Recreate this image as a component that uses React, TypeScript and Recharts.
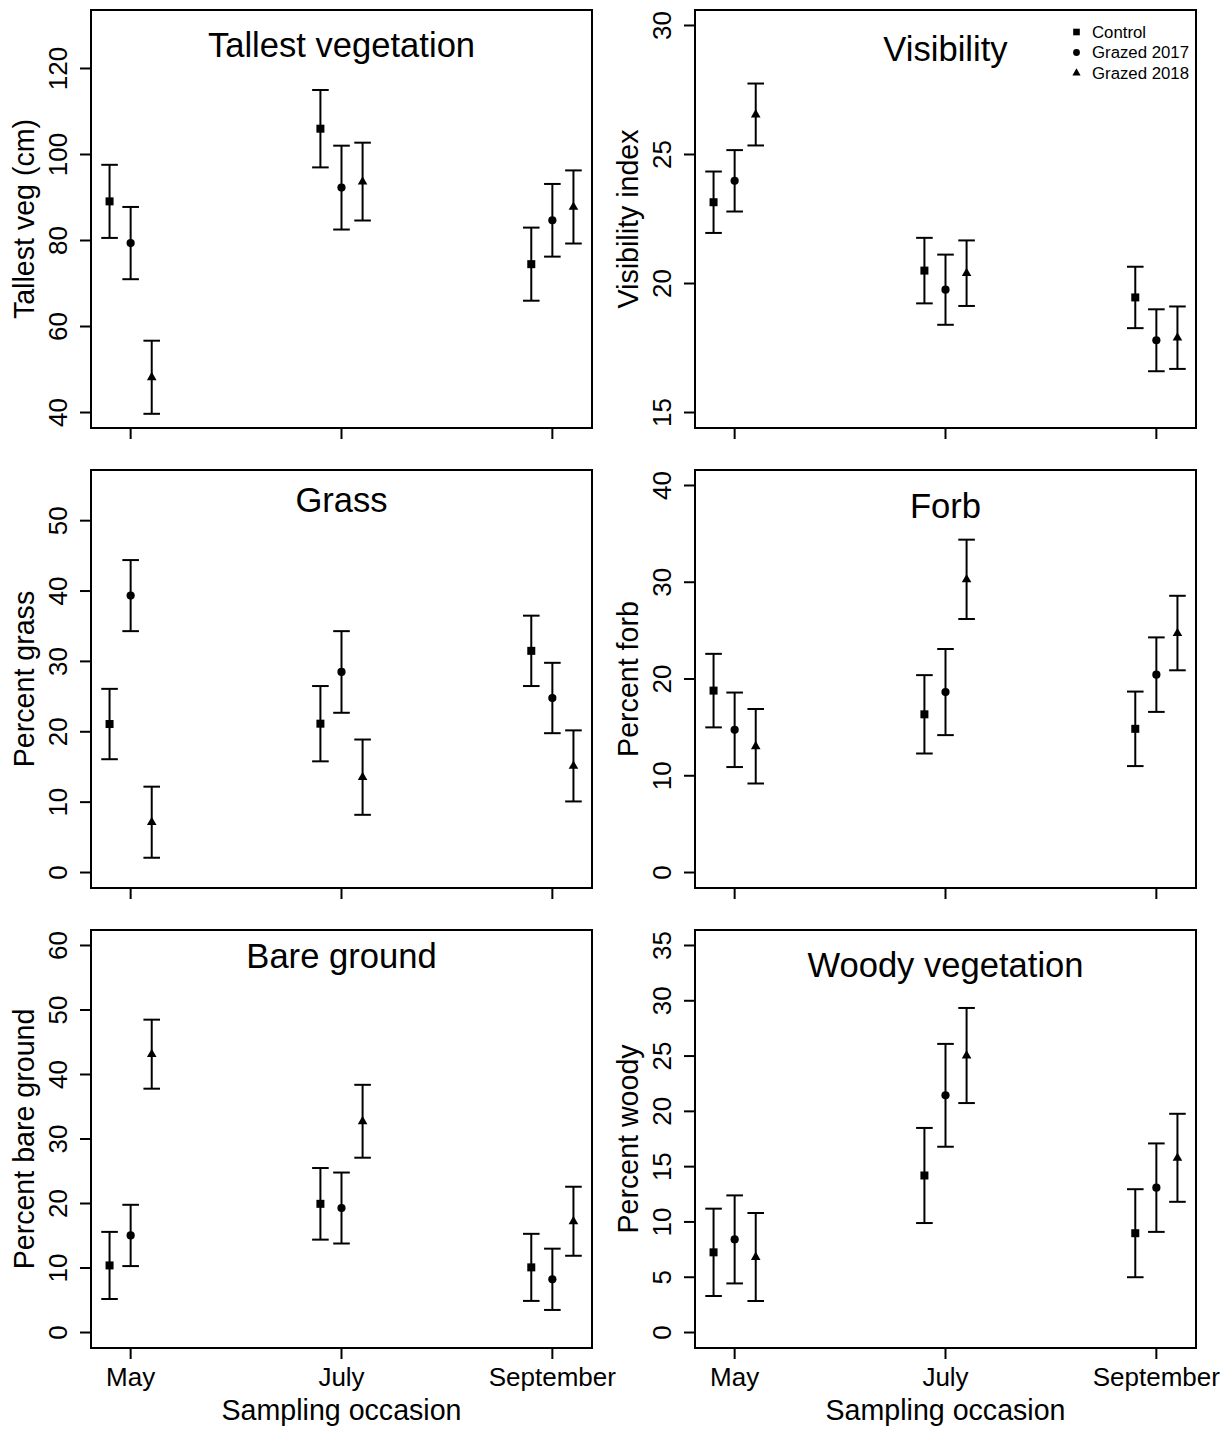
import React from 'react';
import { ScatterChart, Scatter, XAxis, YAxis, ErrorBar, ReferenceArea, Legend } from 'recharts';

const FONT = '"Liberation Sans", Arial, Helvetica, sans-serif';

// sampling occasions and treatments
const months = ['May', 'July', 'September'];
const occasions = [1, 2, 3];
const treatments = ['Control', 'Grazed 2017', 'Grazed 2018'];
const dodge = [-0.1, 0, 0.1];

// means / standard errors: one row per treatment, columns May, July, September
const tallestMean = [[89.1, 106.0, 74.5], [79.4, 92.3, 84.7], [48.2, 93.7, 87.8]];
const tallestSe = [[8.5, 9.0, 8.5], [8.4, 9.75, 8.45], [8.5, 9.05, 8.5]];
const tallestTicks = [40, 60, 80, 100, 120];

const visMean = [[23.15, 20.5, 19.46], [23.98, 19.76, 17.8], [26.55, 20.4, 17.9]];
const visSe = [[1.19, 1.27, 1.19], [1.19, 1.36, 1.2], [1.2, 1.27, 1.21]];
const visTicks = [15, 20, 25, 30];

const grassMean = [[21.1, 21.15, 31.5], [39.35, 28.5, 24.8], [7.15, 13.55, 15.15]];
const grassSe = [[5.0, 5.35, 5.0], [5.05, 5.8, 5.0], [5.05, 5.35, 5.05]];
const grassTicks = [0, 10, 20, 30, 40, 50];

const forbMean = [[18.8, 16.35, 14.85], [14.75, 18.65, 20.45], [13.05, 30.3, 24.75]];
const forbSe = [[3.8, 4.05, 3.85], [3.85, 4.45, 3.85], [3.85, 4.1, 3.85]];
const forbTicks = [0, 10, 20, 30, 40];

const bareMean = [[10.4, 19.95, 10.1], [15.05, 19.3, 8.25], [43.15, 32.75, 17.25]];
const bareSe = [[5.2, 5.55, 5.2], [4.75, 5.5, 4.75], [5.35, 5.65, 5.35]];
const bareTicks = [0, 10, 20, 30, 40, 50, 60];

const woodyMean = [[7.25, 14.2, 8.98], [8.42, 21.45, 13.1], [6.83, 25.05, 15.8]];
const woodySe = [[3.95, 4.3, 3.98], [3.98, 4.65, 4.0], [3.98, 4.3, 3.98]];
const woodyTicks = [0, 5, 10, 15, 20, 25, 30, 35];

// R-style axis: limits padded by 4%
const pad = (lo: number, hi: number): [number, number] => {
  const d = (hi - lo) * 0.04;
  return [lo - d, hi + d];
};
const X_DOMAIN = pad(0.9, 3.1);

const panels = [
  { title: 'Tallest vegetation', yLabel: 'Tallest veg (cm)', ylim: [40, 130], ticks: tallestTicks, mean: tallestMean, se: tallestSe, titleY: 47 },
  { title: 'Visibility', yLabel: 'Visibility index', ylim: [15, 30], ticks: visTicks, mean: visMean, se: visSe, titleY: 51 },
  { title: 'Grass', yLabel: 'Percent grass', ylim: [0, 55], ticks: grassTicks, mean: grassMean, se: grassSe, titleY: 42 },
  { title: 'Forb', yLabel: 'Percent forb', ylim: [0, 40], ticks: forbTicks, mean: forbMean, se: forbSe, titleY: 48 },
  { title: 'Bare ground', yLabel: 'Percent bare ground', ylim: [0, 60], ticks: bareTicks, mean: bareMean, se: bareSe, titleY: 38 },
  { title: 'Woody vegetation', yLabel: 'Percent woody', ylim: [0, 35], ticks: woodyTicks, mean: woodyMean, se: woodySe, titleY: 47 },
];

const AXIS_W = 91;
const BOX_W = 501;
const BOX_TOP = 10;
const BOX_H = 418;
const LINE = 2;

const Square = (p: any) => <rect x={p.cx - 4} y={p.cy - 4} width={8} height={8} fill="#000" />;
const Dot = (p: any) => <circle cx={p.cx} cy={p.cy} r={4.1} fill="#000" />;
const Tri = (p: any) => (
  <polygon points={`${p.cx},${p.cy - 5.4} ${p.cx + 4.8},${p.cy + 2.9} ${p.cx - 4.8},${p.cy + 2.9}`} fill="#000" />
);
const shapes = [Square, Dot, Tri];

function LegendBox() {
  return (
    <svg width={150} height={66} style={{ display: 'block', overflow: 'visible' }}>
      {treatments.map((t, i) => {
        const cy = 11 + i * 20.5;
        const cx = 12.5;
        return (
          <g key={t}>
            {i === 0 && <rect x={cx - 3.3} y={cy - 3.3} width={6.6} height={6.6} fill="#000" />}
            {i === 1 && <circle cx={cx} cy={cy} r={3.4} fill="#000" />}
            {i === 2 && <polygon points={`${cx},${cy - 4.7} ${cx + 4.1},${cy + 2.5} ${cx - 4.1},${cy + 2.5}`} fill="#000" />}
            <text x={28} y={cy} dominantBaseline="central" fontSize={16.8} fontFamily={FONT} fill="#000">{t}</text>
          </g>
        );
      })}
    </svg>
  );
}

function Panel({ idx, left, top, width, height, bottomRow }: any) {
  const cfg = panels[idx];
  const yDomain = pad(cfg.ylim[0], cfg.ylim[1]);
  const xAxisH = height - BOX_TOP - BOX_H;
  const series = treatments.map((t, i) => ({
    name: t,
    data: occasions.map((o, j) => ({ x: o + dodge[i], y: cfg.mean[i][j], se: cfg.se[i][j] })),
  }));

  const yTick = (p: any) => (
    <text
      x={AXIS_W - 24}
      y={p.y}
      transform={`rotate(-90, ${AXIS_W - 24}, ${p.y})`}
      textAnchor="middle"
      fontSize={26}
      fontFamily={FONT}
      fill="#000"
    >
      {p.payload.value}
    </text>
  );

  const xTick = (p: any) =>
    bottomRow ? (
      <text x={p.x} y={BOX_TOP + BOX_H + 38} textAnchor="middle" fontSize={26} fontFamily={FONT} fill="#000">
        {months[occasions.indexOf(p.payload.value)]}
      </text>
    ) : (
      <g />
    );

  const yTitle = (p: any) => {
    const vb = p.viewBox || { x: 0, y: BOX_TOP, width: AXIS_W, height: BOX_H };
    const x = vb.x + 34;
    const y = vb.y + vb.height / 2;
    return (
      <text x={x} y={y} transform={`rotate(-90, ${x}, ${y})`} textAnchor="middle" fontSize={28.6} fontFamily={FONT} fill="#000">
        {cfg.yLabel}
      </text>
    );
  };

  const xTitle = (p: any) => {
    const vb = p.viewBox || { x: AXIS_W, y: BOX_TOP + BOX_H, width: BOX_W, height: xAxisH };
    return (
      <text x={vb.x + vb.width / 2} y={vb.y + 72} textAnchor="middle" fontSize={28.6} fontFamily={FONT} fill="#000">
        Sampling occasion
      </text>
    );
  };

  const mainTitle = (p: any) => {
    const vb = p.viewBox || { x: AXIS_W, y: BOX_TOP, width: BOX_W, height: BOX_H };
    return (
      <text x={vb.x + vb.width / 2} y={vb.y + cfg.titleY} textAnchor="middle" fontSize={34.6} fontFamily={FONT} fill="#000">
        {cfg.title}
      </text>
    );
  };

  return (
    <div style={{ position: 'absolute', left, top, width, height }}>
      <ScatterChart width={width} height={height} margin={{ top: BOX_TOP, right: width - AXIS_W - BOX_W, bottom: 0, left: 0 }}>
        <XAxis
          type="number"
          dataKey="x"
          domain={X_DOMAIN}
          allowDataOverflow
          ticks={occasions}
          interval={0}
          height={xAxisH}
          axisLine={false}
          tickLine={{ stroke: '#000', strokeWidth: LINE }}
          tickSize={11}
          tick={xTick}
          label={bottomRow ? xTitle : undefined}
        />
        <YAxis
          type="number"
          dataKey="y"
          domain={yDomain}
          allowDataOverflow
          ticks={cfg.ticks}
          interval={0}
          width={AXIS_W}
          axisLine={false}
          tickLine={{ stroke: '#000', strokeWidth: LINE }}
          tickSize={11}
          tickMargin={0}
          tick={yTick}
          label={yTitle}
        />
        <ReferenceArea
          x1={X_DOMAIN[0]}
          x2={X_DOMAIN[1]}
          y1={yDomain[0]}
          y2={yDomain[1]}
          fill="none"
          fillOpacity={0}
          stroke="#000"
          strokeWidth={LINE}
          ifOverflow="visible"
          label={mainTitle}
        />
        {series.map((s, i) => (
          <Scatter key={s.name} name={s.name} data={s.data} shape={shapes[i]} fill="#000" isAnimationActive={false}>
            <ErrorBar dataKey="se" direction="y" width={8.3} stroke="#000" strokeWidth={LINE} isAnimationActive={false} />
          </Scatter>
        ))}
        {idx === 1 && (
          <Legend
            content={() => <LegendBox />}
            layout="vertical"
            align="center"
            verticalAlign="middle"
            wrapperStyle={{ top: 21, left: 460, width: 150 }}
          />
        )}
      </ScatterChart>
    </div>
  );
}

export default function App() {
  // left column is drawn wider than its slot so "September" is not clipped
  const colLeft = [0, 604];
  const colWidth = [640, 627];
  const rowTop = [0, 460, 920];
  const rowHeight = [460, 460, 509];
  return (
    <div style={{ position: 'absolute', left: 0, top: 0, width: 1231, height: 1429, background: '#fff' }}>
      {panels.map((p, idx) => {
        const r = Math.floor(idx / 2);
        const c = idx % 2;
        return (
          <Panel
            key={p.title}
            idx={idx}
            left={colLeft[c]}
            top={rowTop[r]}
            width={colWidth[c]}
            height={rowHeight[r]}
            bottomRow={r === 2}
          />
        );
      })}
    </div>
  );
}
